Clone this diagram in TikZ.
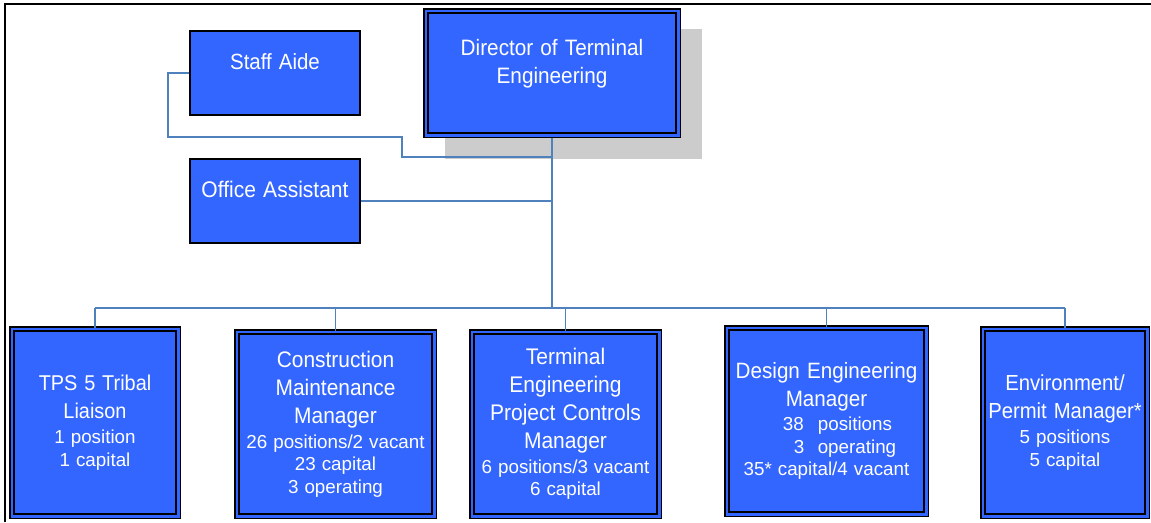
\documentclass[tikz,border=0pt]{standalone}
\usepackage{fontspec}
\setmainfont{Liberation Sans}
\newfontfamily\narrowfont[FakeStretch=0.93]{Liberation Sans}
\usetikzlibrary{calc}
\definecolor{boxblue}{RGB}{51,102,255}
\definecolor{connblue}{RGB}{79,129,189}
\definecolor{shadegray}{RGB}{204,204,204}
\newcommand\bxtitle[1]{\narrowfont\fontsize{#1}{28}\selectfont\spaceskip=0.32em\relax}
\newcommand\bxsub{\normalfont\fontsize{18.8}{22.5}\selectfont\spaceskip=0.32em\relax}
\tikzset{
  dbox/.style={draw=black, line width=1.5pt, double=boxblue, double distance=2.6pt,
    fill=boxblue, inner sep=2pt, text=white, align=center},
  sbox/.style={draw=black, line width=1.6pt, fill=boxblue, inner sep=0pt},
  wtext/.style={text=white, inner sep=0pt, align=center},
  connector/.style={draw=connblue, line width=1.8pt},
}
\begin{document}
\begin{tikzpicture}[x=1pt,y=-1pt]
\useasboundingbox (0,0) rectangle (1151,522);
% frame
\draw[line width=2.5pt] (5,522) -- (5,4) -- (1151,4);
% shadow of director
\fill[shadegray] (445,29) rectangle (702,159);
% helper coordinates
\coordinate (bus) at (0,308);
\coordinate (sak1) at (168,137);
\coordinate (sak2) at (402,157);
% boxes (named first, redrawn on top later)
\path
  node[dbox, minimum width=252.4pt, minimum height=124.4pt] (dir) at (552,73) {}
  node[sbox, minimum width=170.4pt, minimum height=84.4pt] (sa) at (275,73) {}
  node[sbox, minimum width=170.4pt, minimum height=84.4pt] (oa) at (275,201) {};
% connectors
\draw[connector] (sa.west) -| (sak1) -- (sak2 |- sak1) -- (sak2) -- (sak2 -| dir.south);
\draw[connector] (oa.east) -- (oa.east -| dir.south);
\draw[connector] (dir.south) -- (dir.south |- bus);
% bottom boxes
\node[dbox, minimum width=166.4pt, minimum height=187.4pt, text width=158pt] (tps) at (95,422.5)
  {\bxtitle{21.4}TPS 5 Tribal\\Liaison\par\vspace{2.5pt}\bxsub 1 position\\1 capital\par};
\node[dbox, minimum width=197.4pt, minimum height=184.4pt, text width=192pt] (cmm) at (335.5,424)
  {\bxtitle{22.5}Construction\\Maintenance\\Manager\par\vspace{2.5pt}\bxsub 26 positions/2 vacant\\23 capital\\3 operating\par};
\node[dbox, minimum width=187.4pt, minimum height=184.4pt, text width=182pt] (tep) at (565.5,424)
  {\bxtitle{22.6}Terminal\\Engineering\\Project Controls\\Manager\par\vspace{2.5pt}\bxsub 6 positions/3 vacant\\6 capital\par};
\node[dbox, minimum width=199.4pt, minimum height=186.4pt, text width=194pt] (dem) at (826.5,421)
  {\bxtitle{22.2}Design Engineering\\Manager\par\vspace{1.5pt}\bxsub \hspace*{22pt}38\hspace{14pt}positions\\\hspace*{37pt}3\hspace{13.5pt}operating\\35* capital/4 vacant\par};
\node[dbox, minimum width=164.4pt, minimum height=187.4pt, text width=158pt] (env) at (1065,422.5)
  {\bxtitle{21.8}Environment/\\Permit Manager*\par\vspace{2.5pt}\bxsub 5 positions\\5 capital\par};
% bus and drops
\draw[connector] (tps.north |- bus) -- (env.north |- bus);
\foreach \b in {tps,cmm,tep,dem,env}
  \draw[connector] (\b.north |- bus) -- (\b.north);
% redraw top boxes on top of connectors
\node[dbox, minimum width=252.4pt, minimum height=124.4pt] (dirbox) at (dir) {};
\node[sbox, minimum width=170.4pt, minimum height=84.4pt] (sabox) at (sa) {};
\node[sbox, minimum width=170.4pt, minimum height=84.4pt] (oabox) at (oa) {};
% texts of top boxes
\node[wtext, anchor=north, font=\bxtitle{22.3}] (dirtext) at (552,38.7) {Director of Terminal\\Engineering};
\node[wtext, anchor=base, font=\bxtitle{22}] (satext) at (275,69) {Staff Aide};
\node[wtext, anchor=base, font=\bxtitle{22.6}] (oatext) at (275,197) {Office Assistant};
\end{tikzpicture}
\end{document}
